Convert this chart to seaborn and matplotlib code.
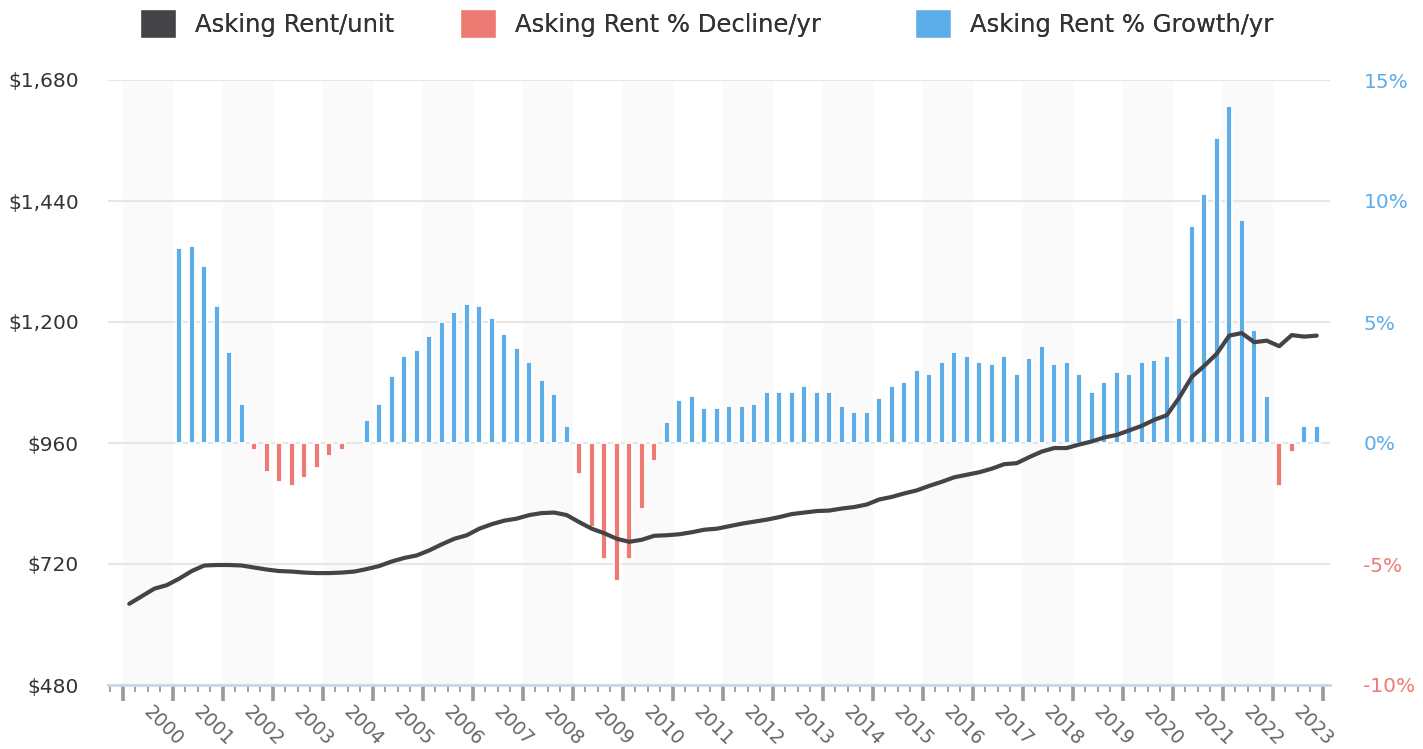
import numpy as np
import pandas as pd
import matplotlib
matplotlib.use("Agg")
import matplotlib.pyplot as plt
from matplotlib.patches import Patch
from matplotlib.ticker import FixedLocator, NullFormatter
import seaborn as sns

# ---------------- data ----------------
years = list(range(2000, 2024))
year_labels = [str(y) for y in years]

# Asking rent per unit, quarterly 2000Q1 .. 2023Q4
rent = [
    641, 656, 671, 678,      # 2000
    691, 706, 717, 718,      # 2001
    718, 717, 713, 709,      # 2002
    706, 705, 703, 702,      # 2003
    702, 703, 705, 710,      # 2004
    716, 725, 732, 737,      # 2005
    747, 759, 770, 777,      # 2006
    790, 799, 806, 810,      # 2007
    817, 821, 822, 817,      # 2008
    803, 790, 781, 770,      # 2009
    764, 768, 776, 777,      # 2010
    779, 783, 788, 790,      # 2011
    795, 800, 804, 808,      # 2012
    813, 819, 822, 825,      # 2013
    826, 830, 833, 838,      # 2014
    848, 853, 860, 866,      # 2015
    875, 883, 892, 897,      # 2016
    902, 909, 918, 920,      # 2017
    932, 943, 950, 950,      # 2018
    957, 963, 971, 976,      # 2019
    985, 994, 1006, 1015,    # 2020
    1050, 1091, 1113, 1137,  # 2021
    1173, 1178, 1160, 1163,  # 2022
    1152, 1174, 1171, 1173,  # 2023
]

# Asking rent % change per year, quarterly 2001Q1 .. 2023Q4
growth_first_year = 2001
growth = [
    8.06, 8.14, 7.31, 5.66,     # 2001
    3.76, 1.61, -0.29, -1.20,   # 2002
    -1.61, -1.78, -1.45, -1.03, # 2003
    -0.54, -0.29, 0.00, 0.95,   # 2004
    1.61, 2.77, 3.60, 3.84,     # 2005
    4.42, 5.00, 5.41, 5.74,     # 2006
    5.66, 5.17, 4.50, 3.93,     # 2007
    3.35, 2.60, 2.02, 0.70,     # 2008
    -1.28, -3.47, -4.79, -5.70, # 2009
    -4.79, -2.73, -0.74, 0.87,  # 2010
    1.78, 1.94, 1.45, 1.45,     # 2011
    1.53, 1.53, 1.61, 2.10,     # 2012
    2.10, 2.10, 2.36, 2.10,     # 2013
    2.10, 1.53, 1.28, 1.28,     # 2014
    1.86, 2.36, 2.52, 3.00,     # 2015
    2.85, 3.35, 3.76, 3.60,     # 2016
    3.35, 3.26, 3.60, 2.85,     # 2017
    3.51, 4.01, 3.26, 3.35,     # 2018
    2.85, 2.11, 2.52, 2.93,     # 2019
    2.85, 3.35, 3.43, 3.60,     # 2020
    5.17, 8.97, 10.29, 12.60,   # 2021
    13.93, 9.21, 4.67, 1.94,    # 2022
    -1.78, -0.37, 0.70, 0.70,   # 2023
]

left_ticks = [480, 720, 960, 1200, 1440, 1680]
left_labels = ["$480", "$720", "$960", "$1,200", "$1,440", "$1,680"]
right_ticks = [-10, -5, 0, 5, 10, 15]
right_labels = ["-10%", "-5%", "0%", "5%", "10%", "15%"]
series_names = ["Asking Rent/unit", "Asking Rent % Decline/yr", "Asking Rent % Growth/yr"]

# ---------------- style ----------------
DARK = "#434348"
RED = "#EE7B73"
BLUE = "#5DADE8"
BAND = "#fafafa"
GRID = "#e6e6e6"

sns.set_theme(style="white")
plt.rcParams["font.family"] = ["DejaVu Sans"]

W, H = 1423, 749
fig = plt.figure(figsize=(W / 100, H / 100), dpi=100)
ax = fig.add_axes([108 / W, 1 - 685 / H, (1330 - 108) / W, (685 - 80) / H])
ax2 = ax.twinx()
ax.set_zorder(3)
ax.patch.set_visible(False)
ax2.set_zorder(1)

# quarter centres
xq = [y + 0.125 + 0.25 * q for y in years for q in range(4)]
gdf = pd.DataFrame({"x": [x for x in xq if x > growth_first_year], "g": growth})
pos = gdf[gdf.g > 0]
neg = gdf[gdf.g < 0]

# alternate year bands
for y in years[::2]:
    ax2.axvspan(y, y + 1, color=BAND, lw=0, zorder=0)

bar_kw = dict(native_scale=True, orient="x", width=0.48, saturation=1,
              edgecolor="white", linewidth=1.3, errorbar=None, ax=ax2)
sns.barplot(data=pos, x="x", y="g", color=BLUE, **bar_kw)
sns.barplot(data=neg, x="x", y="g", color=RED, **bar_kw)

sns.lineplot(x=xq, y=rent, color=DARK, linewidth=3.0, ax=ax)
for ln in ax.lines:
    ln.set_solid_capstyle("round")
    ln.set_solid_joinstyle("round")

# limits
ax.set_xlim(1999.7, 2024.14)
ax.set_ylim(480, 1680)
ax2.set_ylim(-10, 15)

# grid on right axis
ax2.set_yticks(right_ticks, right_labels)
ax2.set_axisbelow(True)
ax2.grid(axis="y", color=GRID, lw=1.5)
ax2.grid(axis="x", visible=False)
ax.grid(False)

# y ticks
ax.set_yticks(left_ticks, left_labels)
ax.tick_params(axis="y", length=0, pad=21, labelsize=14.5, labelcolor="#333333")
ax2.tick_params(axis="y", length=0, pad=24, labelsize=14.5)
for lab, v in zip(ax2.get_yticklabels(), right_ticks):
    lab.set_color(RED if v < 0 else BLUE)

# x ticks: year (major) and quarter (minor) marks
ax.xaxis.set_major_locator(FixedLocator(list(range(2000, 2025))))
ax.xaxis.set_minor_locator(FixedLocator(list(np.arange(1999.75, 2024.01, 0.25))))
ax.xaxis.set_major_formatter(NullFormatter())
ax.xaxis.set_minor_formatter(NullFormatter())
ax.tick_params(axis="x", which="major", bottom=True, length=11.5, width=2.6, color="#999999")
ax.tick_params(axis="x", which="minor", bottom=True, length=5, width=1.3, color="#999999")

sec = ax.secondary_xaxis("bottom")
sec.set_xticks([y + 0.47 for y in years], year_labels)
sec.tick_params(length=0, pad=17, labelsize=13.5, labelcolor="#666666")
for s in sec.spines.values():
    s.set_visible(False)
plt.setp(sec.get_xticklabels(), rotation=-45, ha="left", va="center", rotation_mode="anchor")

for a in (ax, ax2):
    a.set_xlabel("")
    a.set_ylabel("")
    for s in a.spines.values():
        s.set_visible(False)
ax.spines["bottom"].set_visible(True)
ax.spines["bottom"].set_color("#ccd6eb")
ax.spines["bottom"].set_linewidth(2)

# legend: one entry per legend so each sits where the reference puts it
legend_x = [140, 460, 915]
handle_colors = [DARK, RED, BLUE]
for name, col, lx in zip(series_names, handle_colors, legend_x):
    leg = fig.legend([Patch(facecolor=col)], [name], loc="center left",
                     bbox_to_anchor=(lx / W, 1 - 23.5 / H), frameon=False,
                     fontsize=17.5, handlelength=1.5, handleheight=1.5,
                     handletextpad=0.75, borderpad=0, borderaxespad=0,
                     labelcolor="#333333")
    fig.add_artist(leg)

fig.savefig("out.png", dpi=100)
